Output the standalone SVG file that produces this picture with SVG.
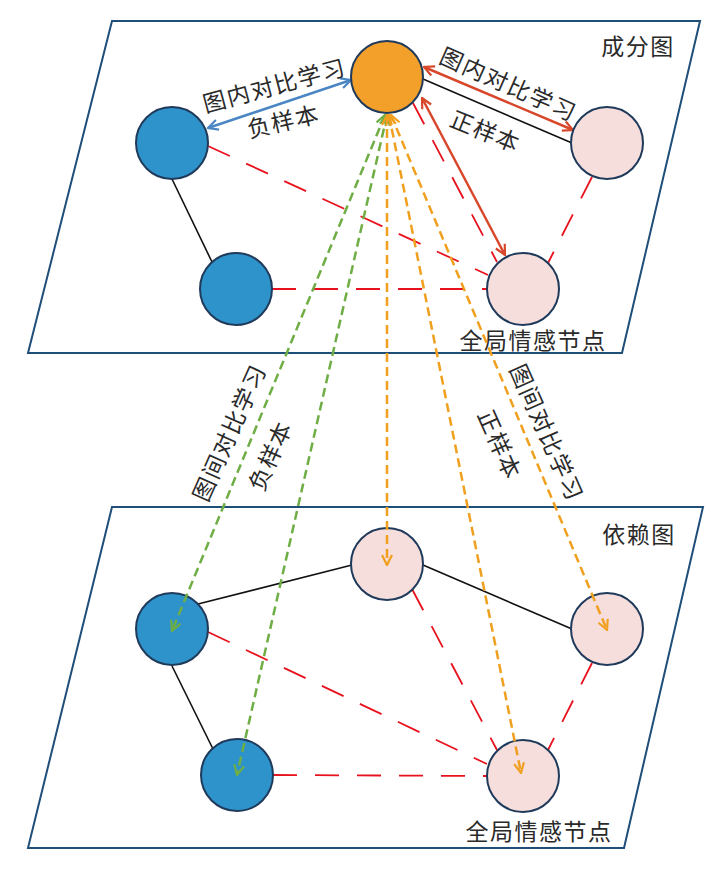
<svg xmlns="http://www.w3.org/2000/svg" width="725" height="869" viewBox="0 0 725 869">
<style>
.plane{fill:#fff;stroke:#1F4E79;stroke-width:2}
.nd{stroke:#1F3A5A;stroke-width:2}
.blue{fill:#2E93CB}
.orange{fill:#F2A02A}
.pink{fill:#F6DEDD}
.solid{stroke:#111;stroke-width:1.6;fill:none}
.rdash{stroke:#E8121E;stroke-width:1.8;stroke-dasharray:24 18;fill:none}
.garr{stroke:#6FAD45;stroke-width:2.5;stroke-dasharray:9 5;fill:none}
.oarr{stroke:#F0A01E;stroke-width:2.5;stroke-dasharray:9 5;fill:none}
.rarr{stroke:#D9472B;stroke-width:2.5;fill:none}
.barr{stroke:#4A86C4;stroke-width:2.5;fill:none}
text{font-family:"Noto Sans CJK SC","Noto Sans CJK JP",sans-serif;font-size:23px;fill:#2a2a2a;letter-spacing:1.5px}
.lbl{text-anchor:middle;dominant-baseline:central}
</style>
<defs>
<marker id="mr" viewBox="0 0 12 12" refX="11" refY="6" markerWidth="12" markerHeight="12" orient="auto-start-reverse" markerUnits="userSpaceOnUse"><path d="M1,1 L11,6 L1,11" fill="none" stroke="#D9472B" stroke-width="2.2"/></marker>
<marker id="mb" viewBox="0 0 12 12" refX="11" refY="6" markerWidth="12" markerHeight="12" orient="auto-start-reverse" markerUnits="userSpaceOnUse"><path d="M1,1 L11,6 L1,11" fill="none" stroke="#4A86C4" stroke-width="2.2"/></marker>
<marker id="mg" viewBox="0 0 12 12" refX="11" refY="6" markerWidth="12" markerHeight="12" orient="auto-start-reverse" markerUnits="userSpaceOnUse"><path d="M1,1 L11,6 L1,11" fill="none" stroke="#6FAD45" stroke-width="2.2"/></marker>
<marker id="mo" viewBox="0 0 12 12" refX="11" refY="6" markerWidth="12" markerHeight="12" orient="auto-start-reverse" markerUnits="userSpaceOnUse"><path d="M1,1 L11,6 L1,11" fill="none" stroke="#F0A01E" stroke-width="2.2"/></marker>
</defs>

<g id="plane-top">
<polygon class="plane" points="112,21 700,21 622,353 28,353"/>
<text x="638" y="45" class="lbl">成分图</text>
</g>
<g id="plane-bottom">
<polygon class="plane" points="112,507 703,507 624,848 28,848"/>
<text x="639" y="533" class="lbl">依赖图</text>
</g>

<g id="connectors">
<!-- top graph -->
<line class="solid" x1="172" y1="179" x2="212" y2="262"/>
<line class="solid" x1="423" y1="79" x2="572" y2="143"/>
<line class="rdash" x1="208" y1="146" x2="488" y2="275"/>
<line class="rdash" x1="272" y1="289" x2="487" y2="289"/>
<line class="rdash" x1="413" y1="103" x2="497" y2="262"/>
<line class="rdash" x1="592" y1="177" x2="548" y2="263"/>
<line class="barr" x1="208" y1="128" x2="351" y2="80" marker-start="url(#mb)" marker-end="url(#mb)"/>
<line class="rarr" x1="424" y1="67" x2="573" y2="130" marker-start="url(#mr)" marker-end="url(#mr)"/>
<line class="rarr" x1="422" y1="98" x2="505" y2="255" marker-start="url(#mr)" marker-end="url(#mr)"/>
<!-- bottom graph -->
<line class="solid" x1="198" y1="604" x2="352" y2="565"/>
<line class="solid" x1="423" y1="565" x2="572" y2="629"/>
<line class="solid" x1="172" y1="666" x2="213" y2="749"/>
<line class="rdash" x1="208" y1="632" x2="487" y2="764"/>
<line class="rdash" x1="273" y1="775" x2="487" y2="776"/>
<line class="rdash" x1="412" y1="589" x2="497" y2="750"/>
<line class="rdash" x1="592" y1="663" x2="548" y2="750"/>
</g>

<g id="node-top-orange"><circle class="nd orange" cx="387" cy="77" r="36"/></g>
<g id="node-top-blue1"><circle class="nd blue" cx="172" cy="143" r="36"/></g>
<g id="node-top-blue2"><circle class="nd blue" cx="236" cy="289" r="36"/></g>
<g id="node-top-pink1"><circle class="nd pink" cx="607" cy="143" r="36"/></g>
<g id="node-top-pink2"><circle class="nd pink" cx="523" cy="289" r="36"/>
<text x="533" y="339" class="lbl">全局情感节点</text></g>

<g id="node-bot-pink-top"><circle class="nd pink" cx="387" cy="564" r="36"/></g>
<g id="node-bot-pink-right"><circle class="nd pink" cx="607" cy="629" r="36"/></g>
<g id="node-bot-blue1"><circle class="nd blue" cx="172" cy="629" r="36"/></g>
<g id="node-bot-blue2"><circle class="nd blue" cx="237" cy="775" r="36"/></g>
<g id="node-bot-pink2"><circle class="nd pink" cx="523" cy="776" r="36"/>
<text x="539" y="830" class="lbl">全局情感节点</text></g>

<g id="connectors-inter">
<line class="garr" x1="385" y1="115" x2="172" y2="631" marker-start="url(#mg)" marker-end="url(#mg)"/>
<line class="garr" x1="387" y1="115" x2="237" y2="775" marker-start="url(#mg)" marker-end="url(#mg)"/>
<line class="oarr" x1="387" y1="115" x2="387" y2="565" marker-start="url(#mo)" marker-end="url(#mo)"/>
<line class="oarr" x1="389" y1="115" x2="521" y2="773" marker-start="url(#mo)" marker-end="url(#mo)"/>
<line class="oarr" x1="391" y1="115" x2="607" y2="630" marker-start="url(#mo)" marker-end="url(#mo)"/>
</g>

<g id="labels">
<text class="lbl" transform="translate(274,84) rotate(-15)">图内对比学习</text>
<text class="lbl" transform="translate(283,120) rotate(-13)">负样本</text>
<text class="lbl" transform="translate(509,83) rotate(24)">图内对比学习</text>
<text class="lbl" transform="translate(486,130) rotate(22)">正样本</text>
<text class="lbl" transform="translate(228,432) rotate(-66)">图间对比学习</text>
<text class="lbl" transform="translate(269,455) rotate(-66)">负样本</text>
<text class="lbl" transform="translate(548,432) rotate(66)">图间对比学习</text>
<text class="lbl" transform="translate(501,444) rotate(66)">正样本</text>
</g>
</svg>
